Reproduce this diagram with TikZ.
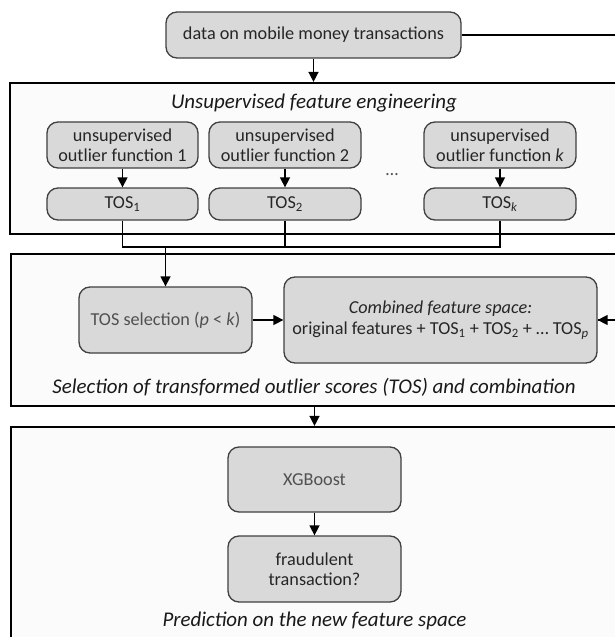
\documentclass[tikz,border=0pt]{standalone}
\usepackage{fontspec}
\setmainfont{Carlito}
\usetikzlibrary{arrows.meta}
\definecolor{boxfill}{HTML}{D9D9D9}
\definecolor{boxline}{HTML}{404040}
\definecolor{boxtext}{HTML}{262626}
\definecolor{lighttext}{HTML}{505050}
\definecolor{framefill}{HTML}{FBFBFB}
\tikzset{
  box/.style={draw=boxline, line width=1.3bp, fill=boxfill, rounded corners=11bp,
    inner sep=0pt, align=center, text=boxtext,
    font=\fontsize{18.3}{22}\selectfont},
  frame/.style={draw=black, line width=2.2bp, fill=framefill, inner sep=0pt},
  ftitle/.style={font=\fontsize{21}{25}\selectfont\itshape, text=black!90, inner sep=0pt},
  conn/.style={draw=black, line width=1.5bp},
  arr/.style={conn, -{Triangle[length=10bp,width=10bp]}}
}
\begin{document}
\begin{tikzpicture}[x=1bp, y=-1bp]
\useasboundingbox (0,0) rectangle (615,637);
\clip (0,0) rectangle (615,637);
% frames
\node[frame, minimum width=630bp, minimum height=151bp] (fr1) at (325,158.5) {};
\node[frame, minimum width=629bp, minimum height=152bp] (fr2) at (325.5,330) {};
\node[frame, minimum width=629bp, minimum height=233bp] (fr3) at (325.5,543.5) {};
\node[ftitle] (t1title) at (314,103) {Unsupervised feature engineering};
\node[ftitle] (t2title) at (314,387) {Selection of transformed outlier scores (TOS) and combination};
\node[ftitle] (t3title) at (314.5,621) {Prediction on the new feature space};
% boxes
\node[box, minimum width=295bp, minimum height=46bp] (data) at (313.5,35) {data on mobile money transactions};
\node[box, minimum width=151bp, minimum height=46bp] (f1) at (122.5,145) {unsupervised\\[-2pt]outlier function 1};
\node[box, minimum width=152bp, minimum height=46bp] (f2) at (285,145) {unsupervised\\[-2pt]outlier function 2};
\node[box, minimum width=152bp, minimum height=46bp] (fk) at (500,145) {unsupervised\\[-2pt]outlier function \textit{k}};
\node[box, minimum width=151bp, minimum height=32bp] (s1) at (122.5,204) {TOS\textsubscript{1}};
\node[box, minimum width=152bp, minimum height=32bp] (s2) at (285,204) {TOS\textsubscript{2}};
\node[box, minimum width=152bp, minimum height=32bp] (sk) at (500,204) {TOS\textsubscript{\textit{k}}};
\node[text=lighttext, font=\fontsize{18}{22}\selectfont, inner sep=0pt] (dots) at (392,175) {…};
\node[box, text=lighttext, minimum width=173bp, minimum height=66bp] (tossel) at (165.5,320) {TOS selection (\textit{p} < \textit{k})};
\node[box, minimum width=313bp, minimum height=86bp] (comb) at (440.5,320) {\textit{Combined feature space:}\\[-1pt]original features + TOS\textsubscript{1} + TOS\textsubscript{2} + … TOS\textsubscript{\textit{p}}};
\node[box, text=lighttext, minimum width=173bp, minimum height=65bp] (xgb) at (314.5,479.5) {XGBoost};
\node[box, minimum width=173bp, minimum height=66bp] (fraud) at (314.5,569) {fraudulent\\[-2pt]transaction?};
% coordinates
\coordinate (bus) at (0,247);
\coordinate (rr) at (640,35);
% connectors
\draw[arr] (data.south) -- (data.south |- fr1.north);
\draw[conn] (data.east) -- (data.east -| rr) |- (comb.east);
\draw[arr] (rr |- comb.east) -- (comb.east);
\draw[arr] (f1.south) -- (s1.north);
\draw[arr] (f2.south) -- (s2.north);
\draw[arr] (fk.south) -- (sk.north);
\draw[conn] (s1.south) |- (sk.south |- bus) -- (sk.south);
\draw[conn] (s2.south) -- (s2.south |- bus);
\draw[arr] (tossel.north |- bus) -- (tossel.north);
\draw[arr] (tossel.east) -- (comb.west);
\draw[arr] (fr2.south -| xgb.south) -- (fr3.north -| xgb.north);
\draw[arr] (xgb.south) -- (fraud.north);
\end{tikzpicture}
\end{document}
